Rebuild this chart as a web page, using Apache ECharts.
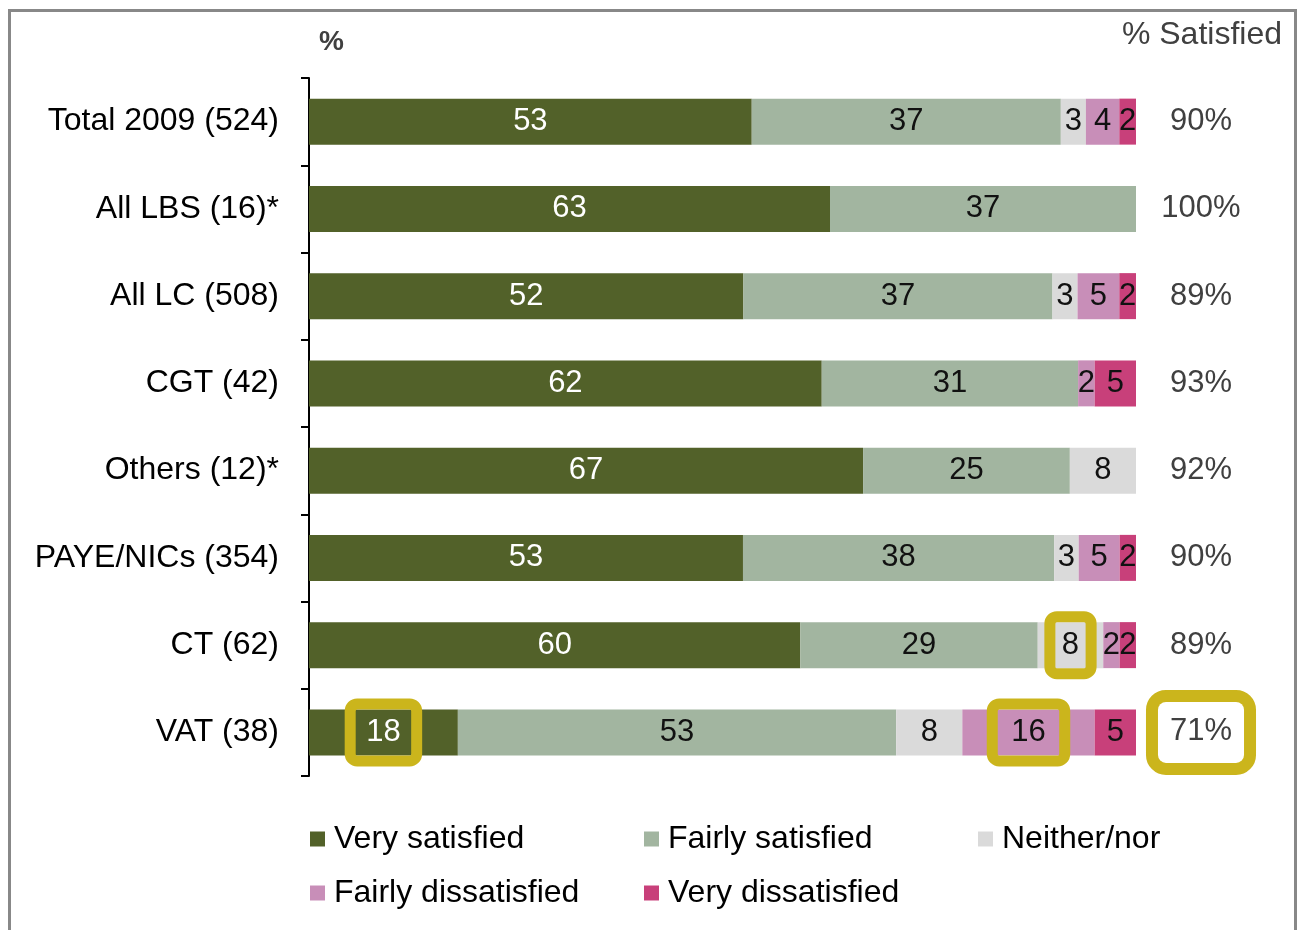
<!DOCTYPE html>
<html>
<head>
<meta charset="utf-8">
<script src="https://cdn.jsdelivr.net/npm/echarts@6/dist/echarts.min.js"></script>
<style>
html,body{margin:0;padding:0;background:#fff;}
#chart{width:1301px;height:930px;}
</style>
</head>
<body>
<div id="chart"></div>
<script>
var categories = ['Total 2009 (524)','All LBS (16)*','All LC (508)','CGT (42)','Others (12)*','PAYE/NICs (354)','CT (62)','VAT (38)'];
var seriesNames = ['Very satisfied','Fairly satisfied','Neither/nor','Fairly dissatisfied','Very dissatisfied'];
var verySatisfied      = [53, 63, 52, 62, 67, 53, 60, 18];
var fairlySatisfied    = [37, 37, 37, 31, 25, 38, 29, 53];
var neitherNor         = [3, null, 3, null, 8, 3, 8, 8];
var fairlyDissatisfied = [4, null, 5, 2, null, 5, 2, 16];
var veryDissatisfied   = [2, null, 2, 5, null, 2, 2, 5];
var pctSatisfied = ['90%','100%','89%','93%','92%','90%','89%','71%'];
// highlighted cells: [series index, category index]
var highlighted = [[0,7],[2,6],[3,7]];
var highlightedSatisfied = 7;

var FONT = 'Liberation Sans, Arial, sans-serif';
var YELLOW = '#CBB51C';
var colors = ['#526129','#A2B5A0','#DADADA','#C88EB8','#C8407A'];
var labelColors = ['#ffffff','#111','#111','#111','#111'];
var values = [verySatisfied, fairlySatisfied, neitherNor, fairlyDissatisfied, veryDissatisfied];
var hlPad = {0:[13,16],2:[13,12],3:[13,19]};

// 100% stacked bar: each row is shown as shares of its own total
var rowTotals = categories.map(function(_, c){
  var t = 0; values.forEach(function(a){ if (a[c] != null) t += a[c]; }); return t;
});

function isHl(s, c){
  for (var i=0;i<highlighted.length;i++){ if(highlighted[i][0]===s && highlighted[i][1]===c) return true; }
  return false;
}

var series = values.map(function(arr, s){
  return {
    name: seriesNames[s],
    type: 'bar',
    stack: 'total',
    barWidth: 46,
    itemStyle: {color: colors[s]},
    label: {
      show: true, position: 'inside', color: labelColors[s],
      fontFamily: FONT, fontSize: 31,
      formatter: function(p){ return p.data && p.data.raw != null ? String(p.data.raw) : ''; }
    },
    data: arr.map(function(v, c){
      var item = {value: v == null ? null : v / rowTotals[c] * 100, raw: v};
      if (isHl(s, c)) {
        item.label = {borderColor: YELLOW, borderWidth: 11, borderRadius: 7, padding: hlPad[s]};
      }
      return item;
    })
  };
});

var legendText = {color: '#000', fontSize: 32, fontFamily: FONT, padding: [0,0,0,4]};

var chart = echarts.init(document.getElementById('chart'));
chart.setOption({
  animation: false,
  backgroundColor: '#fff',
  textStyle: {fontFamily: FONT},
  grid: {left: 309, right: 165, top: 78, bottom: 154, containLabel: false},
  xAxis: {type: 'value', min: 0, max: 100, show: false},
  yAxis: [{
    type: 'category', data: categories, inverse: true,
    axisLine: {show: true, lineStyle: {color: '#000', width: 2}},
    axisTick: {show: true, length: 8, lineStyle: {color: '#000', width: 2}},
    axisLabel: {color: '#000', fontSize: 32, fontFamily: FONT, margin: 30}
  },{
    type: 'category', data: pctSatisfied, inverse: true, position: 'right',
    axisLine: {show: false}, axisTick: {show: false},
    axisLabel: {
      color: '#404040', fontSize: 31, fontFamily: FONT, margin: 65, align: 'center',
      formatter: function(v, i){ return i === highlightedSatisfied ? '{hl|' + v + '}' : v; },
      rich: {hl: {color: '#404040', fontSize: 31, fontFamily: FONT, borderColor: YELLOW, borderWidth: 12, borderRadius: 8, padding: [14,12,16,12], backgroundColor: '#fff'}}
    }
  }],
  legend: [
    {data: ['Very satisfied','Fairly dissatisfied'], left: 305, top: 818, orient: 'vertical', itemGap: 22, itemWidth: 15, itemHeight: 15, icon: 'rect', textStyle: legendText},
    {data: ['Fairly satisfied','Very dissatisfied'], left: 639, top: 818, orient: 'vertical', itemGap: 22, itemWidth: 15, itemHeight: 15, icon: 'rect', textStyle: legendText},
    {data: ['Neither/nor'], left: 973, top: 818, orient: 'vertical', itemGap: 22, itemWidth: 15, itemHeight: 15, icon: 'rect', textStyle: legendText}
  ],
  graphic: [
    {type: 'rect', left: 7, top: 8, shape: {width: 1286, height: 960}, style: {fill: 'none', stroke: '#888', lineWidth: 3}, silent: true},
    {type: 'text', left: 319, top: 28, style: {text: '%', fill: '#404040', font: 'bold 28px Liberation Sans, Arial, sans-serif'}},
    {type: 'text', right: 19, top: 19, style: {text: '% Satisfied', fill: '#404040', font: '32px Liberation Sans, Arial, sans-serif'}}
  ],
  series: series
});
</script>
</body>
</html>
